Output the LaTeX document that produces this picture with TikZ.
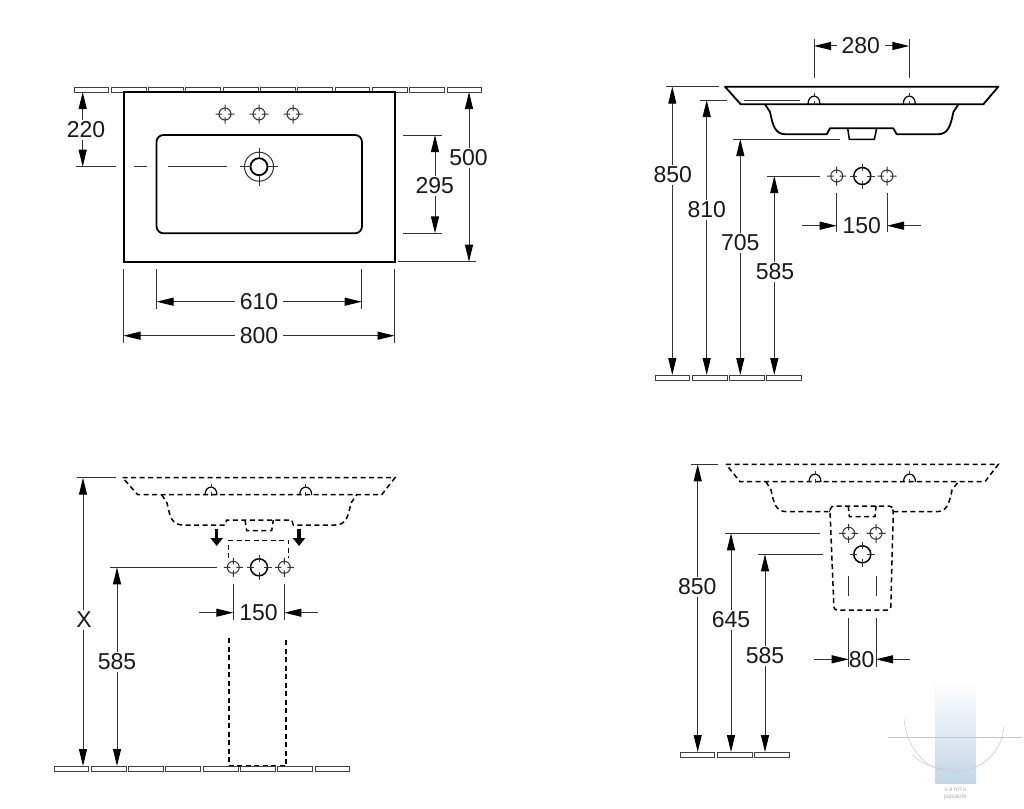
\documentclass[tikz,border=0pt]{standalone}
\usepackage{fontspec}
\setmainfont{Liberation Sans}
\usepackage{xcolor}
\usetikzlibrary{arrows.meta}
\definecolor{myDim}{rgb}{0.2,0.2,0.2}
\definecolor{myTile}{rgb}{0.25,0.25,0.25}
\definecolor{myBlue}{rgb}{0.76,0.84,0.90}
\definecolor{myMark}{rgb}{0.78,0.78,0.78}
\tikzset{
  dim line/.style={draw=myDim, line width=1pt},
  dim both/.style={dim line, {Triangle[length=17pt,width=8pt,color=black]}-{Triangle[length=17pt,width=8pt,color=black]}},
  dim tip/.style={dim line, -{Triangle[length=17pt,width=8pt,color=black]}},
  dim label/.style={fill=white, text=black!90, font=\fontsize{23}{23}\selectfont, inner xsep=5pt, inner ysep=2pt},
  sink solid/.style={draw=black, line width=1.8pt, line join=round},
  sink dash/.style={draw=black, line width=1.5pt, dash pattern=on 5pt off 3.5pt},
  tile line/.style={draw=myTile, line width=1pt},
}
% row of wall tiles, #1 = left, #2 = top, #3 = last index
\newcommand{\tileRow}[3]{
  \foreach \n in {0,...,#3}
    \draw[tile line, shift={(#1+37.3*\n,#2)}] (0,0) rectangle (34.8,5);
}
% tap hole seen from the front
\newcommand{\smallHole}[2]{
  \draw[dim line, shift={(#1,#2)}] (0,0) circle (6pt)
    (-9.5,0) -- (-3,0) (3,0) -- (9.5,0) (0,-9.5) -- (0,-3) (0,3) -- (0,9.5);
}
% waste hole seen from the front
\newcommand{\bigHole}[2]{
  \draw[draw=black, line width=1.5pt, shift={(#1,#2)}] (0,0) circle (8.5pt);
  \draw[dim line, shift={(#1,#2)}]
    (-12.5,0) -- (-5,0) (5,0) -- (12.5,0) (0,-12.5) -- (0,-5) (0,5) -- (0,12.5);
}
% tap hole seen in the side view
\newcommand{\rimHole}[3]{
  \draw[#3, shift={(#1,#2)}] (-6,4) .. controls (-6,-6.5) and (6,-6.5) .. (6,4);
  \draw[dim line, shift={(#1,#2)}] (0,-7) -- (0,-3) (0,1) -- (0,5);
}

\begin{document}
\begin{tikzpicture}[x=1pt,y=-1pt]
\useasboundingbox (0,0) rectangle (1024,808);

%%%%%%%%%%%%%%%%%%%%%%%%%%%%%%%%%%%%%%%%%%%%%%%%%%%%%%%%%%%%%% Top view
\tileRow{74}{87}{10}
\draw[fill=white, draw=black, line width=2pt] (124,92) rectangle (395,262);
\draw[sink solid, rounded corners=7pt] (156.5,135) rectangle (362,233.3);

\smallHole{225}{114}
\smallHole{259}{114}
\smallHole{293}{114}

% waste with the rings round it
\draw[dim line] (259,166.7) circle (14.5pt);
\draw[draw=black, line width=1.8pt] (259,166.7) circle (8.5pt);
\draw[dim line] (240,166.7) -- (250.5,166.7) (267.5,166.7) -- (278,166.7) (259,147.5) -- (259,158.2) (259,175.2) -- (259,186);
% centre line
\draw[dim line] (76.3,166.7) -- (115.7,166.7) (134,166.7) -- (146.7,166.7) (168,166.7) -- (227.3,166.7);

\draw[dim both] (82.7,92) -- (82.7,166.7);
\node[dim label] (lbl220) at (86,130) {220};

\draw[dim both] (469,92) -- (469,261.7);
\draw[dim line] (398,261.7) -- (475.7,261.7);
\node[dim label] (lbl500) at (468.5,158) {500};

\draw[dim line] (403,135) -- (441.7,135) (403,233.3) -- (441.7,233.3);
\draw[dim both] (435,135) -- (435,233.3);
\node[dim label] (lbl295) at (434.7,186) {295};

\draw[dim line] (156.5,269) -- (156.5,308.7) (361.7,269) -- (361.7,308.7);
\draw[dim both] (156.5,301.7) -- (361.7,301.7);
\node[dim label] (lbl610) at (259,302) {610};

\draw[dim line] (123.5,269) -- (123.5,342.7) (394.5,269) -- (394.5,342.7);
\draw[dim both] (123.5,335.7) -- (394.5,335.7);
\node[dim label] (lbl800) at (259,336) {800};

%%%%%%%%%%%%%%%%%%%%%%%%%%%%%%%%%%%%%%%%%%%%%%%%%%%%%%%%%%%%%% Side view, top right
\draw[sink solid] (725,86.7) -- (998.3,86.7) -- (983.3,104.3) -- (740.7,104.3) -- cycle;
\draw[sink solid] (765,104.3) -- (770,112) .. controls (773,126) and (775,134.3) .. (786,134.3)
  -- (826.7,134.3) -- (830,128.3) -- (893.3,128.3) -- (896.7,134.3) -- (937.4,134.3)
  .. controls (948.4,134.3) and (950.4,126) .. (953.4,112) -- (958.4,104.3);
\draw[sink solid, line width=1.5pt] (847.7,128.3) -- (849.3,139.3) -- (874.3,139.3) -- (876.7,128.3);
\rimHole{814}{100}{sink solid, line width=1.2pt}
\rimHole{909.3}{100}{sink solid, line width=1.2pt}

\draw[dim line] (814,39) -- (814,78) (909.3,39) -- (909.3,78);
\draw[dim both] (814,46) -- (909.3,46);
\node[dim label] (lbl280) at (860.7,46) {280};

\smallHole{836.7}{176}
\bigHole{862.3}{176}
\smallHole{887}{176}

\tileRow{655}{375}{3}

\draw[dim line] (665.7,86.7) -- (719,86.7);
\draw[dim both] (672.3,86.7) -- (672.3,375);
\node[dim label] (lbl850a) at (672.7,175) {850};

\draw[dim line] (700,100) -- (727,100) (744.3,100) -- (800,100);
\draw[dim both] (706.7,100) -- (706.7,375);
\node[dim label] (lbl810) at (706.7,210) {810};

\draw[dim line] (733.3,139) -- (840,139);
\draw[dim both] (740.3,139) -- (740.3,375);
\node[dim label] (lbl705) at (740.3,243) {705};

\draw[dim line] (767.3,176) -- (820,176);
\draw[dim both] (774.3,176) -- (774.3,375);
\node[dim label] (lbl585a) at (775,272) {585};

\draw[dim line] (836.7,193) -- (836.7,232) (887,193) -- (887,232);
\draw[dim tip] (802.3,225.7) -- (836.7,225.7);
\draw[dim tip] (920.7,225.7) -- (887,225.7);
\node[dim label, inner xsep=1pt] (lbl150a) at (861.7,226) {150};

%%%%%%%%%%%%%%%%%%%%%%%%%%%%%%%%%%%%%%%%%%%%%%%%%%%%%%%%%%%%%% Pedestal, bottom left
\draw[sink dash] (122.7,477.7) -- (395,477.7) -- (381.7,494.7) -- (137.7,494.7) -- cycle;
\draw[sink dash] (161.7,494.7) -- (167,503) .. controls (170,517) and (172,525) .. (183,525)
  -- (225,525) -- (226.7,520) -- (291.7,520) -- (293.3,525) -- (335,525)
  .. controls (346,525) and (348,517) .. (351,503) -- (356.7,494.7);
\draw[sink dash] (245,520) -- (246.7,530.7) -- (271.7,530.7) -- (273.3,520);
\rimHole{211}{491}{sink solid, line width=1.2pt}
\rimHole{305.7}{491}{sink solid, line width=1.2pt}

% thick arrows
\draw[draw=black, line width=3.5pt, -{Triangle[length=8pt,width=12pt]}] (216.7,529) -- (216.7,546);
\draw[draw=black, line width=3.5pt, -{Triangle[length=8pt,width=12pt]}] (299,529) -- (299,546);

\draw[sink dash] (228.7,558) -- (228.7,540.3) -- (288.7,540.3) -- (288.7,558);
\draw[sink dash] (229,638) -- (229,766) -- (286,766) -- (286,638);

\smallHole{233.3}{567.3}
\bigHole{259}{567.3}
\smallHole{284.3}{567.3}

\tileRow{54}{766}{7}

\draw[dim line] (76.7,477.7) -- (116,477.7);
\draw[dim both] (83,477.7) -- (83,766);
\node[dim label] (lblX) at (84,620) {X};

\draw[dim line] (110,567.3) -- (216.7,567.3);
\draw[dim both] (117,567.3) -- (117,766);
\node[dim label] (lbl585b) at (117,662) {585};

\draw[dim line] (233.3,584) -- (233.3,620) (284.3,584) -- (284.3,620);
\draw[dim tip] (199.3,612.7) -- (233.3,612.7);
\draw[dim tip] (318.3,612.7) -- (284.3,612.7);
\node[dim label, inner xsep=1pt] (lbl150b) at (258.5,613) {150};

%%%%%%%%%%%%%%%%%%%%%%%%%%%%%%%%%%%%%%%%%%%%%%%%%%%%%%%%%%%%%% Bracket, bottom right
\draw[sink dash] (726,464.3) -- (998.3,464.3) -- (985,481.7) -- (740,481.7) -- cycle;
\draw[sink dash] (766,481.7) -- (771,490) .. controls (774,504) and (776,511.7) .. (787,511.7) -- (828.3,511.7);
\draw[sink dash] (893.3,511.7) -- (936,511.7) .. controls (947,511.7) and (949,504) .. (952,490) -- (958.3,481.7);
\draw[sink dash, rounded corners=3pt] (830,511) -- (831,506) -- (892,506) -- (893.3,511) -- (890.7,610) -- (834,610) -- cycle;
\draw[sink dash] (848.3,506) -- (849.3,516.7) -- (875,516.7) -- (876,506);
\rimHole{815}{478}{sink solid, line width=1.2pt}
\rimHole{909.5}{478}{sink solid, line width=1.2pt}

\smallHole{848.7}{533.3}
\smallHole{876}{533.3}
\bigHole{862.3}{554.3}

\draw[dim line] (848.7,575.7) -- (848.7,596) (876,575.7) -- (876,596);
\draw[dim line] (848.7,618.3) -- (848.7,666.7) (876,618.3) -- (876,666.7);

\tileRow{680}{752}{2}

\draw[dim line] (690.7,464.3) -- (718,464.3);
\draw[dim both] (697.7,464.3) -- (697.7,752);
\node[dim label] (lbl850b) at (697.2,587) {850};

\draw[dim line] (725,533.3) -- (820,533.3);
\draw[dim both] (731,533.3) -- (731,752);
\node[dim label] (lbl645) at (731,620) {645};

\draw[dim line] (758.3,554.3) -- (822.7,554.3);
\draw[dim both] (765,554.3) -- (765,752);
\node[dim label] (lbl585c) at (765,656) {585};

\draw[dim tip] (814.3,659.3) -- (848.7,659.3);
\draw[dim tip] (910,659.3) -- (876,659.3);
\node[text=black!90, font=\fontsize{23}{23}\selectfont, inner sep=0pt] (lbl80) at (861.7,660) {80};

%%%%%%%%%%%%%%%%%%%%%%%%%%%%%%%%%%%%%%%%%%%%%%%%%%%%%%%%%%%%%% Mark in the corner
\shade[top color=white, bottom color=myBlue] (935.7,680) rectangle (976,783.7);
\draw[myMark, line width=0.5pt] (888,737.3) -- (1022,737.3);
\draw[myMark, line width=0.5pt] (904,719) .. controls (907,752) and (930,771.7) .. (953,771.7) .. controls (982,771.7) and (1002,752) .. (1004,726.7);
\draw[myMark, line width=0.5pt] (913,755) .. controls (925,767) and (940,770) .. (957,769);
\node[text=black!30, font=\fontsize{6.5}{6.5}\selectfont, inner sep=0pt] (markA) at (955.5,789.5) {v\,a\,n\,n\,u};
\node[text=black!30, font=\fontsize{6.5}{6.5}\selectfont, inner sep=0pt] (markB) at (955.5,797) {pasaule};

\end{tikzpicture}
\end{document}
